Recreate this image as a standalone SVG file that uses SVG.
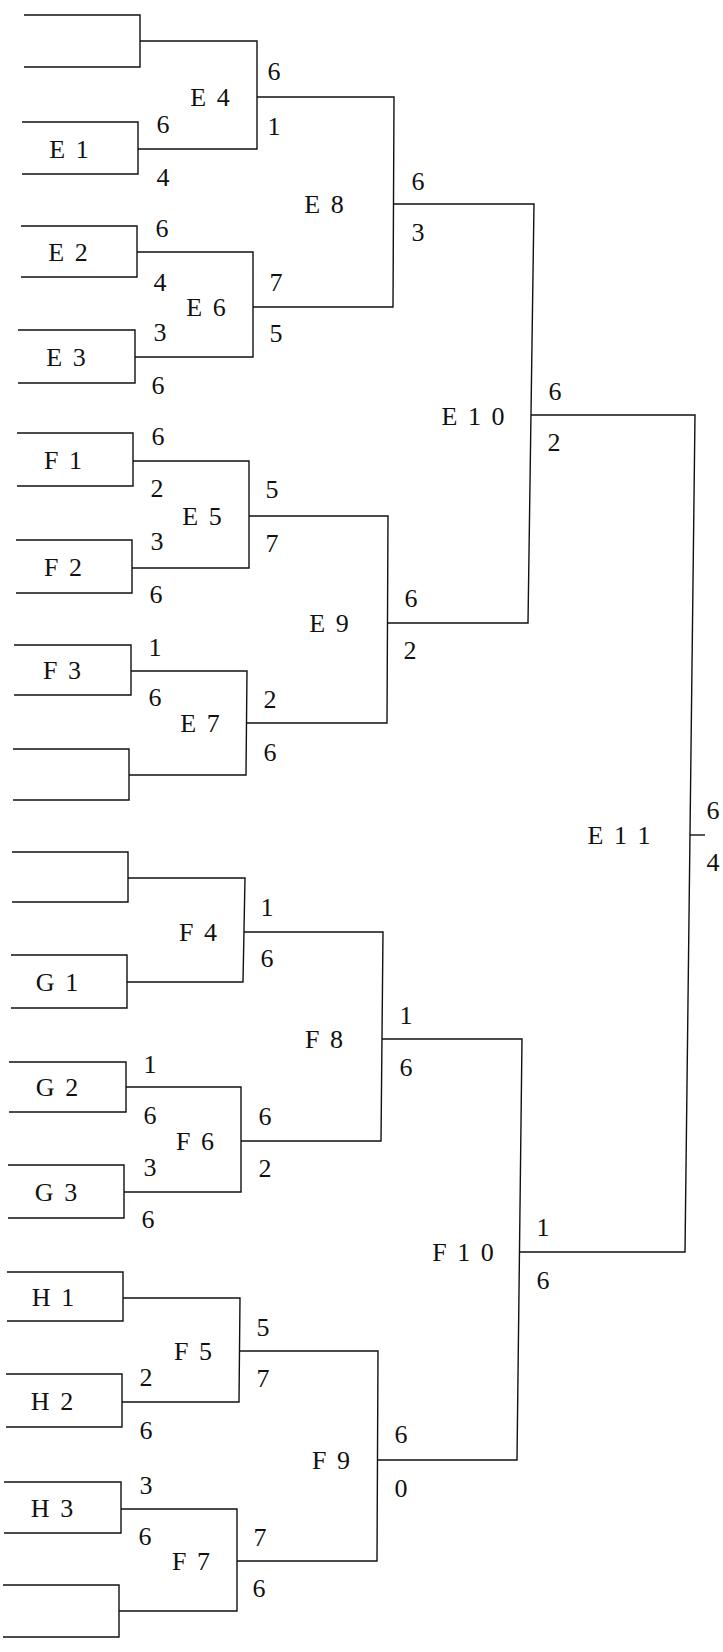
<svg xmlns="http://www.w3.org/2000/svg" width="723" height="1652" viewBox="0 0 723 1652">
<style>
.ln{fill:none;stroke:#111;stroke-width:1.4;stroke-linejoin:miter}
text{font-family:"Liberation Serif","Times New Roman",serif;font-size:26px;fill:#111;text-anchor:middle}
.lb{letter-spacing:2px}
</style>
<rect width="723" height="1652" fill="#fff"/>
<g id="connectors" class="ln">
<path d="M140,41 H257 V149 H138"/>
<path d="M137,252 H253 V357 H135"/>
<path d="M133,461 H249 V568 H132"/>
<path d="M131,671 H247 L246,775 H129"/>
<path d="M128,878 H245 L243,982 H127"/>
<path d="M126,1087 H241 V1192 H124"/>
<path d="M123,1298 H240 L239,1402 H122"/>
<path d="M121,1509 H237 V1611 H119"/>
<path d="M257,97 H394 L393,307 H253"/>
<path d="M249,516 H388 L387,723 H246"/>
<path d="M244,932 H383 L381,1141 H241"/>
<path d="M239,1351 H378 L377,1561 H237"/>
<path d="M393.5,204 H534 L528,623 H387.5"/>
<path d="M382,1039 H522 L517,1460 H377.5"/>
<path d="M531,415 H695 L685,1252 H519.5"/>
<path d="M690,835 H705"/>
</g>
<g id="leaf1"><path class="ln" d="M24,15 H140 V67 H24"/></g>
<g id="E1"><path class="ln" d="M22,122 H138 V174 H22"/><text class="lb" x="70" y="158">E 1</text><text x="163" y="133">6</text><text x="163" y="186">4</text></g>
<g id="E2"><path class="ln" d="M21,226 H137 V277 H21"/><text class="lb" x="69" y="261">E 2</text><text x="162" y="237">6</text><text x="160" y="291">4</text></g>
<g id="E3"><path class="ln" d="M18,330 H135 V383 H18"/><text class="lb" x="67" y="366">E 3</text><text x="160" y="341">3</text><text x="158" y="394">6</text></g>
<g id="F1"><path class="ln" d="M17,433 H133 V486 H17"/><text class="lb" x="64" y="469">F 1</text><text x="158" y="445">6</text><text x="157" y="497">2</text></g>
<g id="F2"><path class="ln" d="M16,540 H132 V593 H16"/><text class="lb" x="64" y="576">F 2</text><text x="157" y="550">3</text><text x="156" y="603">6</text></g>
<g id="F3"><path class="ln" d="M14,645 H131 V695 H14"/><text class="lb" x="63" y="679">F 3</text><text x="155" y="656">1</text><text x="155" y="706">6</text></g>
<g id="leaf8"><path class="ln" d="M13,749 H129 V800 H13"/></g>
<g id="leaf9"><path class="ln" d="M12,852 H128 V902 H12"/></g>
<g id="G1"><path class="ln" d="M11,955 H127 V1008 H11"/><text class="lb" x="58" y="991">G 1</text></g>
<g id="G2"><path class="ln" d="M9,1062 H126 V1112 H9"/><text class="lb" x="58" y="1096">G 2</text><text x="150" y="1073">1</text><text x="150" y="1124">6</text></g>
<g id="G3"><path class="ln" d="M8,1165 H124 V1218 H8"/><text class="lb" x="57" y="1201">G 3</text><text x="150" y="1176">3</text><text x="148" y="1228">6</text></g>
<g id="H1"><path class="ln" d="M7,1272 H123 V1321 H7"/><text class="lb" x="54" y="1306">H 1</text></g>
<g id="H2"><path class="ln" d="M6,1374 H122 V1427 H6"/><text class="lb" x="53" y="1410">H 2</text><text x="146" y="1386">2</text><text x="146" y="1439">6</text></g>
<g id="H3"><path class="ln" d="M4,1482 H121 V1533 H4"/><text class="lb" x="53" y="1517">H 3</text><text x="146" y="1494">3</text><text x="145" y="1545">6</text></g>
<g id="leaf16"><path class="ln" d="M3,1585 H119 V1637 H3"/></g>
<g id="E4"><text class="lb" x="211" y="106">E 4</text><text x="274" y="80">6</text><text x="274" y="135">1</text></g>
<g id="E6"><text class="lb" x="207" y="316">E 6</text><text x="276" y="291">7</text><text x="276" y="342">5</text></g>
<g id="E5"><text class="lb" x="203" y="525">E 5</text><text x="272" y="498">5</text><text x="272" y="552">7</text></g>
<g id="E7"><text class="lb" x="201" y="732">E 7</text><text x="270" y="708">2</text><text x="270" y="761">6</text></g>
<g id="F4"><text class="lb" x="199" y="941">F 4</text><text x="267" y="916">1</text><text x="267" y="967">6</text></g>
<g id="F6"><text class="lb" x="196" y="1150">F 6</text><text x="265" y="1125">6</text><text x="265" y="1177">2</text></g>
<g id="F5"><text class="lb" x="194" y="1360">F 5</text><text x="263" y="1336">5</text><text x="263" y="1387">7</text></g>
<g id="F7"><text class="lb" x="192" y="1570">F 7</text><text x="260" y="1546">7</text><text x="259" y="1597">6</text></g>
<g id="E8"><text class="lb" x="325" y="213">E 8</text><text x="418" y="190">6</text><text x="418" y="241">3</text></g>
<g id="E9"><text class="lb" x="330" y="632">E 9</text><text x="411" y="607">6</text><text x="410" y="659">2</text></g>
<g id="F8"><text class="lb" x="325" y="1048">F 8</text><text x="406" y="1024">1</text><text x="406" y="1076">6</text></g>
<g id="F9"><text class="lb" x="332" y="1469">F 9</text><text x="401" y="1443">6</text><text x="401" y="1497">0</text></g>
<g id="E10"><text class="lb" x="474" y="425">E 1 0</text><text x="555" y="400">6</text><text x="554" y="451">2</text></g>
<g id="F10"><text class="lb" x="464" y="1261">F 1 0</text><text x="543" y="1236">1</text><text x="543" y="1289">6</text></g>
<g id="E11"><text class="lb" x="620" y="844">E 1 1</text><text x="713" y="819">6</text><text x="713" y="871">4</text></g>
</svg>
